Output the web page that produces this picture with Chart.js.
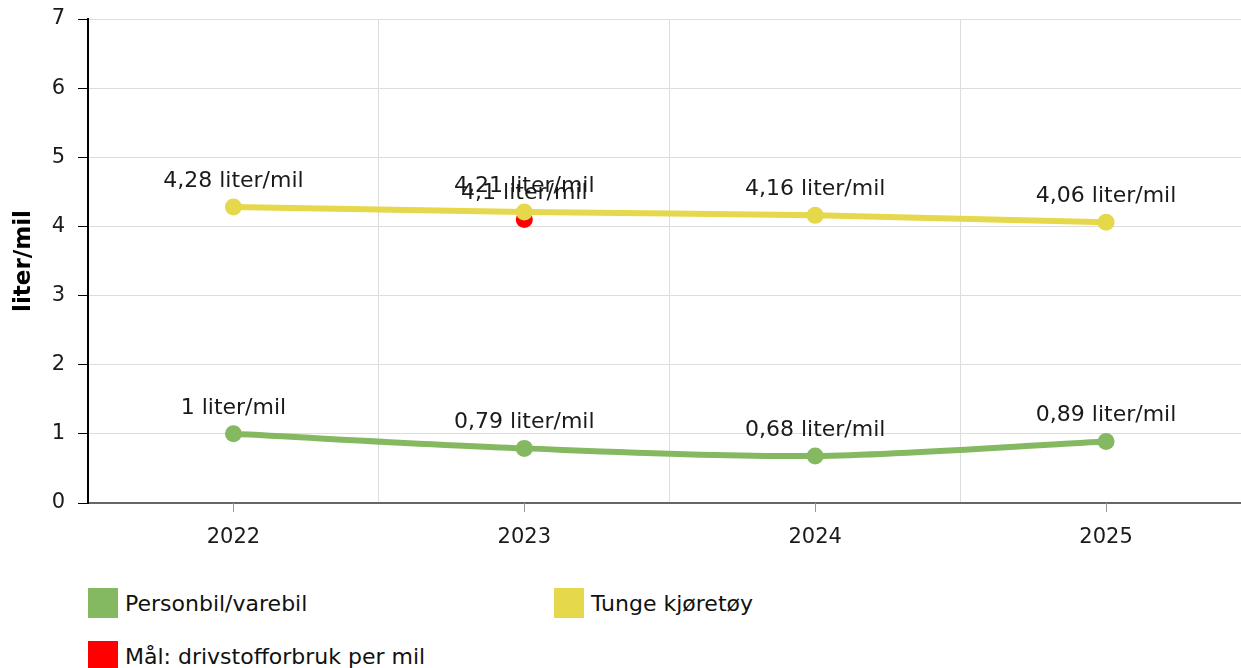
<!DOCTYPE html>
<html>
<head>
<meta charset="utf-8">
<script src="https://cdn.jsdelivr.net/npm/chart.js@4/dist/chart.umd.min.js"></script>
<style>
  html, body { margin: 0; padding: 0; background: #fff; overflow: hidden; }
  body { width: 1241px; height: 668px; position: relative; font-family: "DejaVu Sans", sans-serif; }
  #wrap { position: absolute; left: 0; top: 0; width: 1260px; height: 560px; }
  .legend-item { position: absolute; font-size: 22px; color: #111; display: flex; align-items: center; height: 30px; }
  .legend-item span.box { display: inline-block; width: 30px; height: 30px; margin-right: 7px; }
</style>
</head>
<body>
<div id="wrap"><canvas id="chart"></canvas></div>
<div class="legend-item" style="left:88px; top:588px;"><span class="box" style="background:#84b962"></span>Personbil/varebil</div>
<div class="legend-item" style="left:554px; top:588px;"><span class="box" style="background:#e5d84a"></span>Tunge kjøretøy</div>
<div class="legend-item" style="left:88px; top:641px;"><span class="box" style="background:#ff0000"></span>Mål: drivstofforbruk per mil</div>
<script>
// Data
const years = ['2022', '2023', '2024', '2025'];
const personbil = [1, 0.79, 0.68, 0.89];
const tunge = [4.28, 4.21, 4.16, 4.06];
const maal = [null, 4.1, null, null];
const yTicks = [0, 1, 2, 3, 4, 5, 6, 7];

const FONT = '"DejaVu Sans", sans-serif';

function fmt(v) {
    return String(v).replace('.', ',') + ' liter/mil';
}

// Tekst over punktene
const pointLabels = {
    id: 'pointLabels',
    afterDatasetsDraw(chart) {
        const ctx = chart.ctx;
        ctx.save();
        ctx.font = '22px ' + FONT;
        ctx.fillStyle = '#1a1a1a';
        ctx.textAlign = 'center';
        ctx.textBaseline = 'middle';
        chart.data.datasets.forEach((ds, i) => {
            const meta = chart.getDatasetMeta(i);
            meta.data.forEach((pt, j) => {
                const v = ds.data[j];
                if (v === null || v === undefined) return;
                ctx.fillText(fmt(v), pt.x, pt.y - 26);
            });
        });
        ctx.restore();
    }
};

// Små streker under x-aksen ved hver kategori
const xTickMarks = {
    id: 'xTickMarks',
    afterDraw(chart) {
        const ctx = chart.ctx;
        const xs = chart.scales.x;
        const y0 = chart.chartArea.bottom;
        ctx.save();
        ctx.strokeStyle = '#999';
        ctx.lineWidth = 1;
        years.forEach((y, i) => {
            const px = Math.round(xs.getPixelForValue(i)) + 0.5;
            ctx.beginPath();
            ctx.moveTo(px, y0);
            ctx.lineTo(px, y0 + 9);
            ctx.stroke();
        });
        ctx.restore();
    }
};

new Chart(document.getElementById('chart'), {
    type: 'line',
    data: {
        labels: years,
        datasets: [
            {
                label: 'Personbil/varebil',
                data: personbil,
                borderColor: '#84b962',
                backgroundColor: '#84b962',
                pointBackgroundColor: '#84b962',
                borderWidth: 6,
                pointRadius: 8.5,
                pointBorderWidth: 0,
                tension: 0.3
            },
            {
                label: 'Tunge kjøretøy',
                data: tunge,
                borderColor: '#e5d84a',
                backgroundColor: '#e5d84a',
                pointBackgroundColor: '#e5d84a',
                borderWidth: 6,
                pointRadius: 8.5,
                pointBorderWidth: 0,
                tension: 0.3
            },
            {
                label: 'Mål: drivstofforbruk per mil',
                data: maal,
                showLine: false,
                borderColor: '#ff0000',
                backgroundColor: '#ff0000',
                pointBackgroundColor: '#ff0000',
                pointRadius: 8.5,
                pointBorderWidth: 0
            }
        ]
    },
    options: {
        responsive: true,
        maintainAspectRatio: false,
        animation: false,
        layout: { padding: 0 },
        plugins: {
            legend: { display: false },
            tooltip: { enabled: false }
        },
        scales: {
            x: {
                offset: true,
                grid: { color: '#dddddd', offset: true, drawTicks: false },
                border: { color: '#666', width: 2 },
                ticks: { color: '#1a1a1a', font: { family: FONT, size: 21 }, padding: 22, maxRotation: 0 },
                afterFit(scale) { scale.height = 57; }
            },
            y: {
                min: 0,
                max: 7,
                afterBuildTicks(scale) { scale.ticks = yTicks.map(v => ({ value: v })); },
                grid: { color: '#dddddd', tickColor: '#000', tickLength: 10 },
                border: { color: '#000', width: 2 },
                ticks: { color: '#1a1a1a', font: { family: FONT, size: 21 }, padding: 13 },
                title: {
                    display: true,
                    text: 'liter/mil',
                    color: '#000',
                    font: { family: FONT, size: 23, weight: 'bold' },
                    padding: { top: 10, bottom: 10 }
                },
                afterFit(scale) {
                    scale.width = 88;
                    scale.paddingTop = 19;
                    scale.paddingBottom = 0;
                }
            }
        }
    },
    plugins: [pointLabels, xTickMarks]
});
</script>
</body>
</html>
